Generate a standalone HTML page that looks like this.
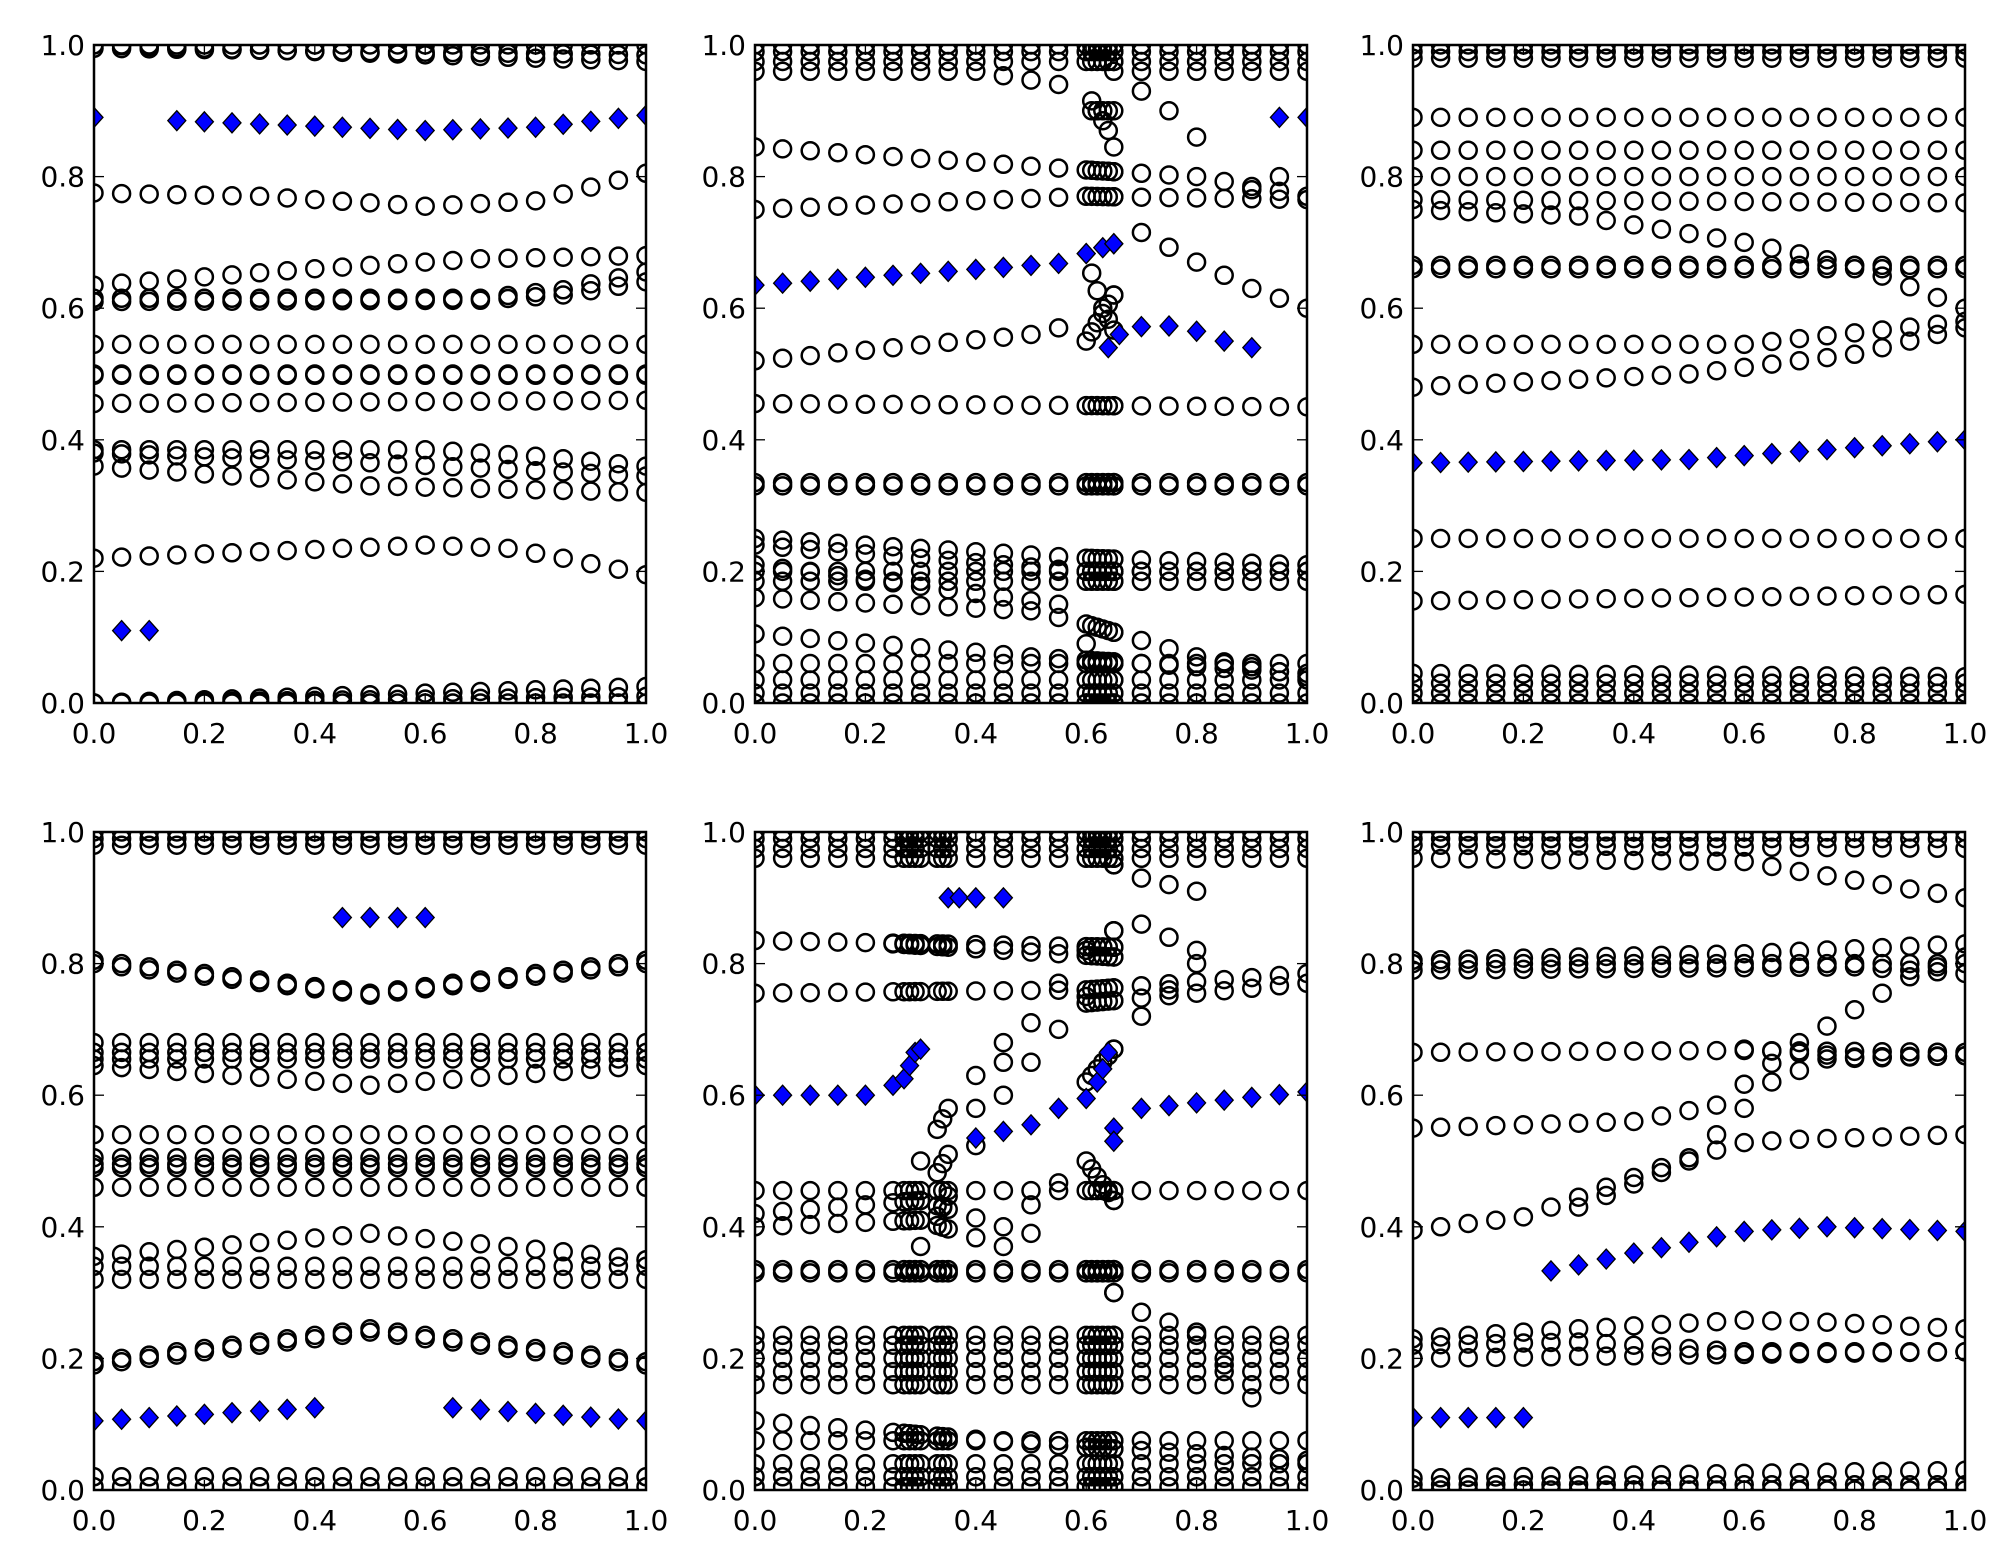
<!DOCTYPE html>
<html><head><meta charset="utf-8"><style>
html,body{margin:0;padding:0;background:#fff;}
svg{display:block}
text{font-family:"DejaVu Sans","Liberation Sans",sans-serif;font-size:28px;fill:#000}
</style></head><body>
<svg id="s" width="2004" height="1565" xmlns="http://www.w3.org/2000/svg"></svg>
<script>
const S=document.getElementById('s');
const W=552,H=658;
const cols=[94,755,1413],rows=[45,832];
const X21=[];for(let i=0;i<=20;i++)X21.push(i/20);
function interp(k,x){for(let i=0;i<k.length-1;i++){if(x>=k[i][0]-1e-9&&x<=k[i+1][0]+1e-9){const t=(x-k[i][0])/((k[i+1][0]-k[i][0])||1);return k[i][1]+t*(k[i+1][1]-k[i][1]);}}return null;}
function C(k,xs){xs=xs||X21;if(typeof k==='number')k=[[0,k],[1,k]];const o=[];for(const x of xs){const y=interp(k,x);if(y!==null)o.push([x,y]);}return o;}
const dense1=[0.61,0.62,0.63,0.64,0.65];
const dense5a=[0.27,0.28,0.29,0.33,0.34];
function P(circ,dia){return {circ:circ,dia:dia};}
const panels=[];
panels.push(P([].concat(
C(1.0),C([[0,1],[1,0.975]]),C([[0,0.995],[1,0.985]]),
C([[0,0.775],[0.3,0.77],[0.6,0.755],[0.8,0.763],[1,0.805]]),
C([[0,0.635],[0.4,0.66],[0.7,0.675],[1,0.68]]),
C([[0,0.615],[0.7,0.615],[0.85,0.628],[1,0.655]]),
C([[0,0.61],[0.7,0.612],[0.85,0.62],[1,0.64]]),
C(0.545),C(0.5),C(0.498),C([[0,0.455],[1,0.46]]),
C([[0,0.385],[0.6,0.385],[0.8,0.375],[1,0.36]]),
C([[0,0.38],[0.5,0.365],[1,0.345]]),
C([[0,0.36],[0.5,0.33],[1,0.32]]),
C([[0,0.22],[0.6,0.24],[0.75,0.235],[0.85,0.22],[1,0.195]]),
C(0.0),C([[0,0],[1,0.025]]),C([[0,0],[1,0.01]])),
[].concat([[0,0.89]],C([[0.15,0.885],[0.6,0.87],[0.8,0.875],[1,0.893]]),[[0.05,0.11],[0.1,0.11]])));
const x2=X21.concat(dense1);
panels.push(P([].concat(
C(1.0,x2),C(0.99,x2),C(0.975,x2),C([[0,0.96],[0.4,0.96],[0.55,0.94]]),C(0.96,X21.slice(13)),
C([[0,0.845],[0.6,0.81],[0.8,0.8],[1,0.77]],x2),
C([[0,0.75],[0.6,0.77],[1,0.765]],x2),
C([[0,0.52],[0.5,0.56],[0.55,0.57]]),
C([[0.6,0.55],[0.65,0.62],[0.7,0.715],[0.8,0.67],[0.9,0.63],[1,0.6]],x2),
C([[0.6,0.68],[0.63,0.6],[0.66,0.55]],dense1),
C([[0.6,0.93],[0.64,0.87],[0.66,0.82]],dense1),C([[0.6,0.9],[0.66,0.9]],dense1),
[[0.7,0.93],[0.75,0.9],[0.8,0.86],[0.95,0.8],[0.9,0.78]],
C([[0,0.455],[1,0.45]],x2),C(0.335,x2),C(0.33,x2),
C([[0,0.25],[0.6,0.22],[1,0.21]],x2),C([[0,0.24],[0.6,0.2],[1,0.2]],x2),C(0.2,x2),C(0.185,x2),
C([[0,0.16],[0.5,0.14],[0.6,0.12],[0.8,0.07],[1,0.04]],x2),
C([[0,0.21],[0.55,0.15],[0.6,0.09]]),
C([[0,0.105],[0.5,0.07],[1,0.045]],x2),
C(0.06,x2),C(0.035,x2),C(0.015,x2),C(0.0,x2)),
[].concat(C([[0,0.635],[0.55,0.668],[0.65,0.698]],X21.concat([0.6,0.63,0.65])),[[0.64,0.54],[0.66,0.56],[0.7,0.572],[0.75,0.573],[0.8,0.565],[0.85,0.55],[0.9,0.54],[0.95,0.89],[1,0.89]])));
panels.push(P([].concat(
C(1.0),C(0.99),C(0.98),C(0.89),C(0.84),C(0.8),C([[0,0.765],[1,0.76]]),
C([[0,0.75],[0.3,0.74],[0.6,0.7],[0.8,0.665],[1,0.6]]),
C(0.665),C(0.66),
C([[0,0.545],[0.6,0.545],[1,0.58]]),
C([[0,0.48],[0.5,0.5],[0.8,0.53],[1,0.57]]),
C(0.25),C([[0,0.155],[1,0.165]]),C([[0,0.045],[1,0.04]]),C(0.03),C(0.015),C(0.0)),
C([[0,0.365],[0.5,0.37],[1,0.4]])));
panels.push(P([].concat(
C(1.0),C(0.99),C(0.98),
C([[0,0.805],[0.5,0.755],[1,0.805]]),C([[0,0.8],[0.5,0.752],[1,0.8]]),
C(0.68),C(0.665),C([[0,0.645],[0.5,0.615],[1,0.645]]),C([[0,0.655],[1,0.655]]),
C(0.54),C(0.505),C(0.495),C(0.49),C(0.46),
C([[0,0.355],[0.5,0.39],[1,0.35]]),C(0.34),C(0.32),
C([[0,0.195],[0.5,0.245],[1,0.195]]),C([[0,0.19],[0.5,0.24],[1,0.19]]),
C(0.02),C(0.005)),
[].concat(C(0.87,[0.45,0.5,0.55,0.6]),C([[0,0.105],[0.4,0.125]]),C([[0.65,0.125],[1,0.105]]))));
const x5=X21.concat(dense5a,dense1);
panels.push(P([].concat(
C(1.0,x5),C(0.99,x5),C(0.975,x5),C(0.96,x5),
C([[0,0.835],[0.65,0.825]],x5),C([[0.25,0.83],[0.65,0.81]],x5),
C([[0,0.755],[0.6,0.76],[1,0.785]],x5),C([[0.6,0.74],[1,0.77]],x5),
C([[0.3,0.44],[0.45,0.65],[0.55,0.77],[0.6,0.82]],x5),
C([[0.3,0.37],[0.45,0.6],[0.55,0.7],[0.6,0.75]],x5),
C([[0.3,0.5],[0.35,0.58],[0.45,0.68]],x5),
C([[0.65,0.95],[0.7,0.93],[0.8,0.91]],x5),C([[0.65,0.85],[0.7,0.86],[0.8,0.82]],x5),
C([[0.6,0.62],[0.7,0.72],[0.8,0.8]],x5),
C([[0,0.455],[1,0.455]],x5),C([[0,0.42],[0.3,0.44],[0.45,0.4],[0.6,0.5],[0.65,0.44]],x5),
C([[0,0.4],[0.3,0.41],[0.45,0.37],[0.5,0.39]],x5),
C(0.335,x5),C(0.33,x5),
C(0.235,x5),C(0.22,x5),C(0.2,x5),C(0.18,x5),C(0.16,x5),
C([[0.65,0.3],[0.7,0.27],[0.8,0.24],[0.9,0.14]],x5),
C([[0,0.105],[0.5,0.07],[1,0.045]],x5),
C(0.075,x5),C(0.04,x5),C(0.02,x5),C(0.005,x5)),
[].concat(C(0.6,[0,0.05,0.1,0.15,0.2]),[[0.25,0.615],[0.27,0.625],[0.28,0.645],[0.29,0.665],[0.3,0.67]],C(0.9,[0.35,0.37,0.4,0.45]),
C([[0.4,0.535],[0.5,0.555],[0.55,0.58],[0.6,0.595]],[0.4,0.45,0.5,0.55,0.6]),[[0.62,0.62],[0.63,0.64],[0.64,0.665],[0.65,0.55],[0.65,0.53]],
C([[0.7,0.58],[1,0.605]],[0.7,0.75,0.8,0.85,0.9,0.95,1]))));
panels.push(P([].concat(
C(1.0),C(0.99),C([[0,0.98],[1,0.975]]),C([[0,0.96],[0.6,0.955],[0.7,0.94],[0.85,0.92],[1,0.9]]),
C([[0,0.805],[0.6,0.815],[1,0.83]]),C([[0,0.8],[1,0.8]]),C([[0,0.79],[0.8,0.795],[1,0.785]]),
C([[0,0.665],[0.6,0.668],[1,0.665]]),C([[0.6,0.67],[0.8,0.658],[1,0.66]]),
C([[0,0.55],[0.4,0.56],[0.55,0.585],[0.7,0.68],[0.8,0.73],[0.9,0.78],[1,0.81]]),
C([[0,0.395],[0.2,0.415],[0.5,0.505],[0.6,0.528],[0.7,0.533],[1,0.54]]),
C([[0.3,0.43],[0.5,0.5],[0.65,0.62],[0.75,0.655],[1,0.66]]),
C([[0,0.23],[0.3,0.245],[0.6,0.258],[0.75,0.255],[1,0.245]]),
C([[0,0.22],[0.3,0.225],[0.6,0.21],[1,0.21]]),C([[0,0.2],[1,0.21]]),
C([[0,0.018],[1,0.03]]),C(0.008),C(0.0)),
[].concat(C(0.11,[0,0.05,0.1,0.15,0.2]),C([[0.25,0.333],[0.4,0.36],[0.6,0.393],[0.75,0.4],[1,0.393]],X21.slice(5)))));

let h='<defs>';
for(let r=0;r<2;r++)for(let c=0;c<3;c++)h+=`<clipPath id="c${r}${c}"><rect x="${cols[c]}" y="${rows[r]}" width="${W}" height="${H}"/></clipPath>`;
h+='</defs>';
const ticks=[0,0.2,0.4,0.6,0.8,1.0];
for(let r=0;r<2;r++)for(let c=0;c<3;c++){
 const x0=cols[c],y0=rows[r],p=panels[r*3+c];
 const px=x=>x0+x*W,py=y=>y0+(1-y)*H;
 h+=`<g clip-path="url(#c${r}${c})">`;
 for(const [x,y] of p.circ)h+=`<circle cx="${px(x).toFixed(1)}" cy="${py(y).toFixed(1)}" r="8.5" fill="none" stroke="#000" stroke-width="2.5"/>`;
 for(const [x,y] of p.dia){const X=px(x),Y=py(y);h+=`<polygon points="${X},${Y-10} ${X+9},${Y} ${X},${Y+10} ${X-9},${Y}" fill="#0000ff" stroke="#000" stroke-width="1.3"/>`;}
 h+='</g>';
 for(const t of ticks){
  const X=px(t),Y=py(t);
  h+=`<line x1="${x0}" y1="${Y}" x2="${x0+10}" y2="${Y}" stroke="#000" stroke-width="1.3"/><line x1="${x0+W}" y1="${Y}" x2="${x0+W-10}" y2="${Y}" stroke="#000" stroke-width="1.3"/>`;
  h+=`<line x1="${X}" y1="${y0+H}" x2="${X}" y2="${y0+H-10}" stroke="#000" stroke-width="1.3"/><line x1="${X}" y1="${y0}" x2="${X}" y2="${y0+10}" stroke="#000" stroke-width="1.3"/>`;
  h+=`<text x="${x0-9}" y="${Y+10}" text-anchor="end">${t.toFixed(1)}</text>`;
  h+=`<text x="${X}" y="${y0+H+40}" text-anchor="middle">${t.toFixed(1)}</text>`;
 }
 h+=`<rect x="${x0}" y="${y0}" width="${W}" height="${H}" fill="none" stroke="#000" stroke-width="2.5"/>`;
}
S.innerHTML=h;
</script>
</body></html>
